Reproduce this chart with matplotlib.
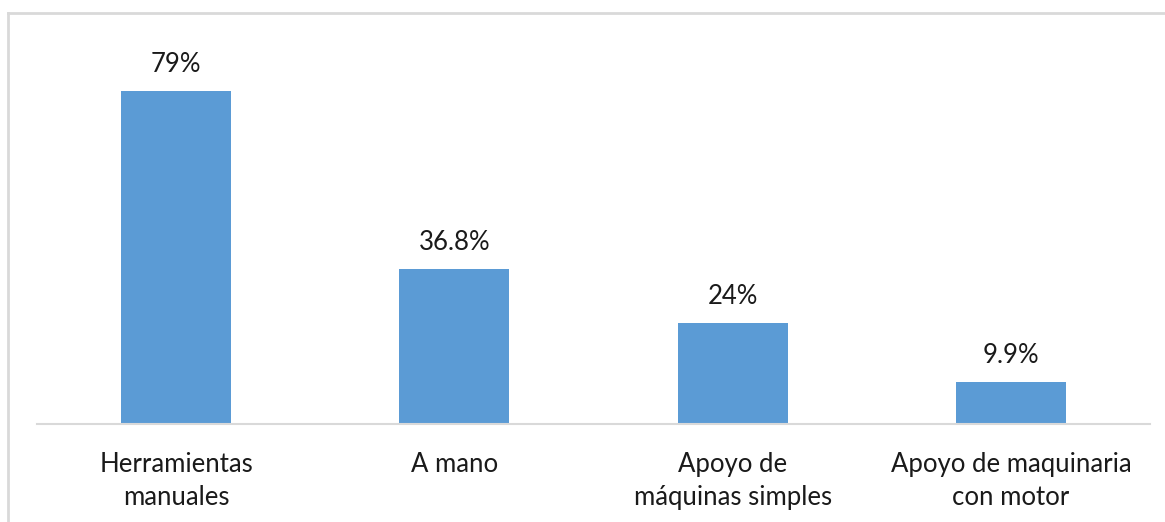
import matplotlib.pyplot as plt
from matplotlib.lines import Line2D

categories = ["Herramientas\nmanuales", "A mano", "Apoyo de\nmáquinas simples",
              "Apoyo de maquinaria\ncon motor"]
values = [79, 36.8, 24, 9.9]
labels = ["79%", "36.8%", "24%", "9.9%"]

plt.rcParams["font.family"] = ["Lato", "DejaVu Sans"]

fig = plt.figure(figsize=(11.65, 5.22), dpi=100)
ax = fig.add_axes([0.0318, 0.1877, 0.9554, 0.7268])

x = range(len(values))
bars = ax.bar(x, values, width=0.395, color="#5B9BD5")
ax.set_xlim(-0.5, len(values) - 0.5)
ax.set_ylim(0, 90)

for b, lab in zip(bars, labels):
    ax.annotate(lab, (b.get_x() + b.get_width() / 2, b.get_height()),
                xytext=(0, 10), textcoords="offset points",
                ha="center", va="bottom", fontsize=18.5, color="#1a1a1a")

ax.set_xticks(list(x))
ax.set_xticklabels(categories, fontsize=18.5, color="#1a1a1a", linespacing=1.4)
ax.tick_params(axis="x", length=0, pad=20)
ax.set_yticks([])
for s in ["top", "right", "left"]:
    ax.spines[s].set_visible(False)
ax.spines["bottom"].set_color("#D9D9D9")
ax.spines["bottom"].set_linewidth(1.5)

# outer chart border (top and left edges visible)
fig.add_artist(Line2D([8 / 1165, 1], [1 - 13 / 522, 1 - 13 / 522],
                      transform=fig.transFigure, color="#D9D9D9", lw=2))
fig.add_artist(Line2D([8 / 1165, 8 / 1165], [0, 1 - 13 / 522],
                      transform=fig.transFigure, color="#D9D9D9", lw=2))

fig.savefig("out.png", dpi=100)
